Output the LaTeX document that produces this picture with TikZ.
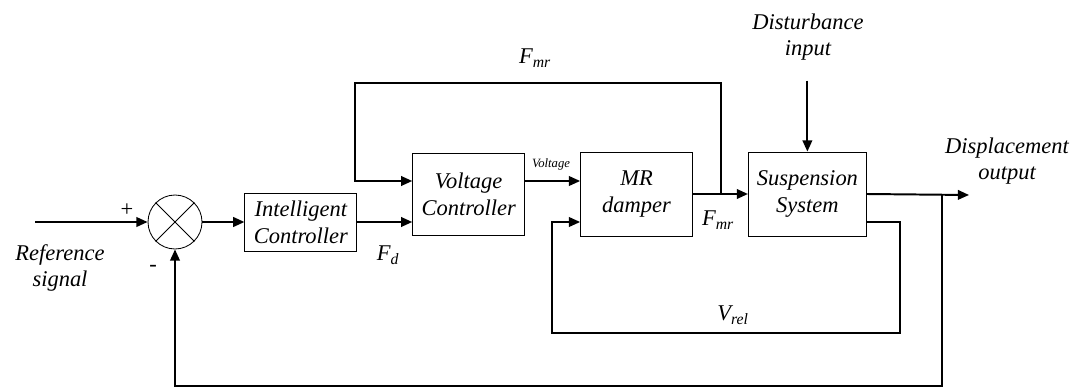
\documentclass[tikz,border=0pt]{standalone}
\usepackage{fontspec}
\setmainfont{Liberation Serif}
\usetikzlibrary{positioning,arrows.meta}

\begin{document}
\begin{tikzpicture}[
    every node/.style={font=\fontsize{16}{19}\selectfont\itshape},
    block/.style={draw, line width=0.6pt, minimum width=2.8cm, minimum height=2.1cm, align=center, inner sep=2pt},
    sig/.style={line width=1.4pt, -{Triangle[length=2.8mm, width=2.4mm]}}
]
    \useasboundingbox (0,0) rectangle (27.25,9.75);

    \node [draw, circle, line width=0.6pt, minimum size=1.35cm, inner sep=0pt] (sum) at (4.375,4.2) {};
    \draw[line width=0.6pt] (sum.45) -- (sum.225) (sum.135) -- (sum.-45);

    \node [block, minimum height=1.45cm, right=1.05cm of sum] (ic) {Intelligent\\Controller};
    \node [block, minimum height=2.05cm, right=1.375cm of ic, yshift=0.7cm] (vc) {Voltage\\Controller};
    \node [block, right=1.375cm of vc] (mr) {MR\\damper};
    \node [block, minimum width=2.95cm, right=1.375cm of mr] (ss) {Suspension\\System};

    \coordinate (in) at (0.875,4.2);
    \coordinate (j1) at ([xshift=0.7cm]mr.east);
    \coordinate (tl) at (8.875,7.675);
    \coordinate (vr) at (22.5,1.425);
    \coordinate (vl) at (13.8,1.425);
    \coordinate (j2) at (23.55,4.875);
    \coordinate (out) at (24.225,4.875);
    \coordinate (d) at ([yshift=1.775cm]ss.north);

    % signals
    \draw[sig] (in) -- (sum.west);
    \draw[sig] (sum.east) -- (ic.west);
    \draw[sig] (ic.east) -- (ic.east -| vc.west);
    \draw[sig] ([yshift=0.325cm]vc.east) -- ([yshift=0.325cm]vc.east -| mr.west);
    \draw[sig] (mr.east) -- (ss.west);
    \draw[sig] (ss.east) -- (out);
    \draw[sig] (d) -- (ss.north);

    % feedback loops
    \draw[sig] (j1) |- (tl) |- ([yshift=0.325cm]vc.west);
    \draw[sig] ([yshift=-0.7cm]ss.east) -| (vr) -- (vl) |- ([yshift=-0.7cm]mr.west);
    \draw[sig] (j2) -- ++(0,-4.775) -| (sum.south);

    % labels
    \node[font=\fontsize{16}{19}\selectfont\upshape] (plus) at (3.175,4.5) {+};
    \node[font=\fontsize{16}{19}\selectfont\upshape] (minus) at (3.825,3.05) {-};
    \node[align=center] (ref) at (1.5,3.05) {Reference\\signal};
    \node (fd) at (9.7,3.375) {F\textsubscript{d}};
    \node (fmrtop) at (13.375,8.3) {F\textsubscript{mr}};
    \node[font=\fontsize{9}{10}\selectfont\itshape] (volt) at (13.775,5.65) {Voltage};
    \node (fmr) at (17.95,4.25) {F\textsubscript{mr}};
    \node[align=center] (dist) at (20.2,8.825) {Disturbance\\input};
    \node[align=center] (disp) at (25.175,5.725) {Displacement\\output};
    \node (vrel) at (18.325,1.875) {V\textsubscript{rel}};
\end{tikzpicture}
\end{document}
